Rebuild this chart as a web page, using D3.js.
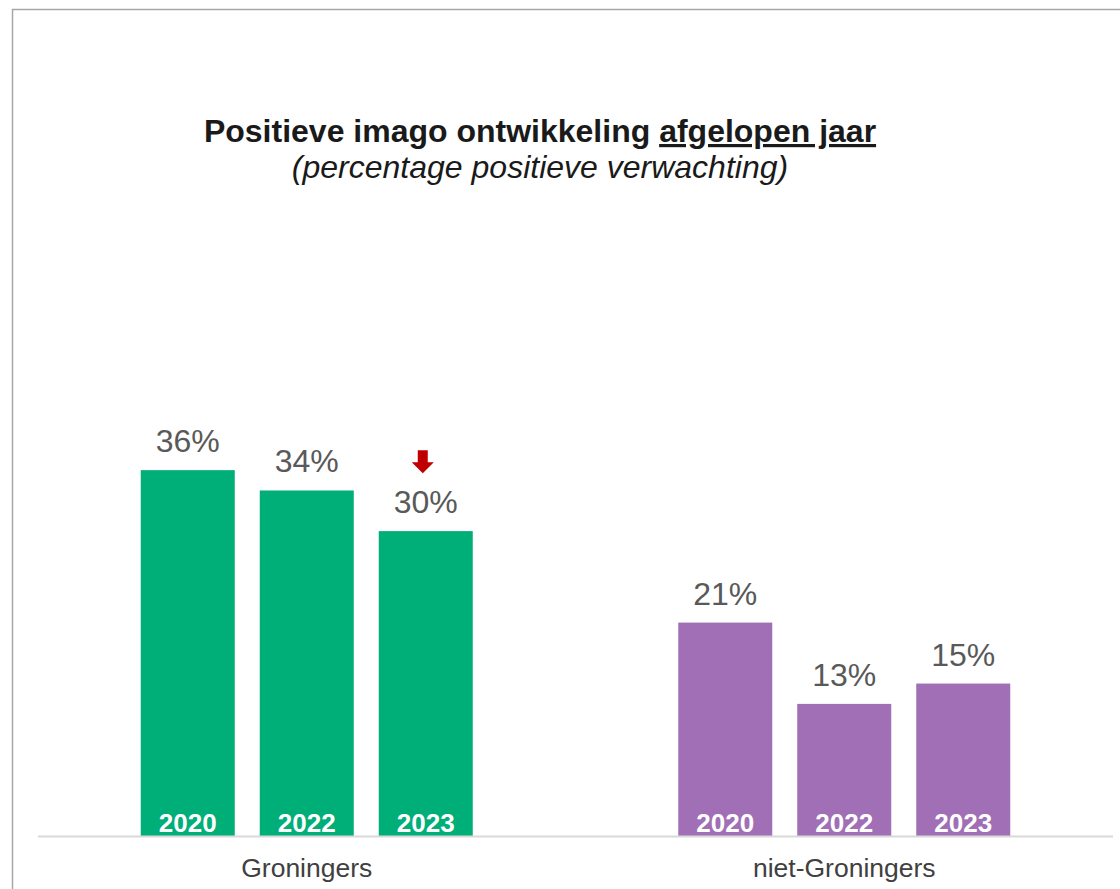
<!DOCTYPE html>
<html><head><meta charset="utf-8">
<script src="https://cdn.jsdelivr.net/npm/d3@7"></script>
<style>
html,body{margin:0;padding:0;background:#fff;}
svg text{font-family:"Liberation Sans",Arial,sans-serif;}
</style></head>
<body>
<div id="chart"></div>
<script>
const groups = ["Groningers", "niet-Groningers"];
const years = ["2020", "2022", "2023"];
const valuesGroningers = [36, 34, 30];
const valuesNietGroningers = [21, 13, 15];
const groupColors = ["#00ae78", "#a06fb5"];
// significant decrease markers (group, year)
const decreaseMarkers = [{group: "Groningers", year: "2023"}];

const W = 1120, H = 889;
const svg = d3.select("#chart").append("svg").attr("width", W).attr("height", H);

// frame lines
svg.append("line").attr("x1",12).attr("x2",W).attr("y1",9.5).attr("y2",9.5).attr("stroke","#a6a6a6").attr("stroke-width",1.5);
svg.append("line").attr("x1",12.5).attr("x2",12.5).attr("y1",9).attr("y2",H).attr("stroke","#a6a6a6").attr("stroke-width",1.5);

const data = [];
groups.forEach((g,gi)=>{
  const vals = gi===0 ? valuesGroningers : valuesNietGroningers;
  years.forEach((y,yi)=>data.push({group:g, year:y, value:vals[yi], color:groupColors[gi]}));
});

const baseY = 836;
const x0 = d3.scaleBand().domain(groups).range([38, 1113]).paddingInner(0).paddingOuter(0);
const x1 = d3.scaleBand().domain(years).range([0, 332]).paddingInner(25/119).paddingOuter(0);
const y = d3.scaleLinear().domain([0, 40]).range([baseY, baseY - 406.5]);
const groupOffset = g => x0(g) + (x0.bandwidth() - 332) / 2;

const bars = svg.append("g");
bars.selectAll("rect").data(data).join("rect")
  .attr("x", d => groupOffset(d.group) + x1(d.year))
  .attr("y", d => y(d.value))
  .attr("width", x1.bandwidth())
  .attr("height", d => y(0) - y(d.value))
  .attr("fill", d => d.color);

// value labels
svg.append("g").selectAll("text").data(data).join("text")
  .attr("x", d => groupOffset(d.group) + x1(d.year) + x1.bandwidth()/2)
  .attr("y", d => y(d.value) - 18)
  .attr("text-anchor","middle")
  .attr("font-size", 32)
  .attr("fill", "#595959")
  .text(d => d.value + "%");

// year labels inside bars
svg.append("g").selectAll("text").data(data).join("text")
  .attr("x", d => groupOffset(d.group) + x1(d.year) + x1.bandwidth()/2)
  .attr("y", baseY - 4)
  .attr("text-anchor","middle")
  .attr("font-size", 26)
  .attr("font-weight","bold")
  .attr("fill", "#fff")
  .text(d => d.year);

// axis baseline
svg.append("line").attr("x1",38).attr("x2",1113).attr("y1",baseY+0.5).attr("y2",baseY+0.5)
  .attr("stroke","#d9d9d9").attr("stroke-width",2);

// category labels
svg.append("g").selectAll("text").data(groups).join("text")
  .attr("x", g => x0(g) + x0.bandwidth()/2)
  .attr("y", 877)
  .attr("text-anchor","middle")
  .attr("font-size", 26.5)
  .attr("fill", "#404040")
  .text(g => g);

// decrease arrows
svg.append("g").selectAll("path").data(decreaseMarkers).join("path")
  .attr("transform", d => {
    const v = data.find(e => e.group===d.group && e.year===d.year).value;
    return `translate(${groupOffset(d.group) + x1(d.year) + x1.bandwidth()/2 - 3},${y(v) - 81})`;
  })
  .attr("d", "M-5,0 L5,0 L5,12 L11,12 L0,23 L-11,12 L-5,12 Z")
  .attr("fill", "#c00000");

// title
const t = svg.append("text").attr("x", 540).attr("y", 142).attr("text-anchor","middle")
  .attr("font-size", 32).attr("font-weight","bold").attr("fill","#1a1a1a");
t.append("tspan").text("Positieve imago ontwikkeling ");
t.append("tspan").attr("text-decoration","underline").text("afgelopen jaar");
svg.append("text").attr("x", 540).attr("y", 178).attr("text-anchor","middle")
  .attr("font-size", 32).attr("font-style","italic").attr("fill","#1a1a1a")
  .text("(percentage positieve verwachting)");
</script>
</body></html>
